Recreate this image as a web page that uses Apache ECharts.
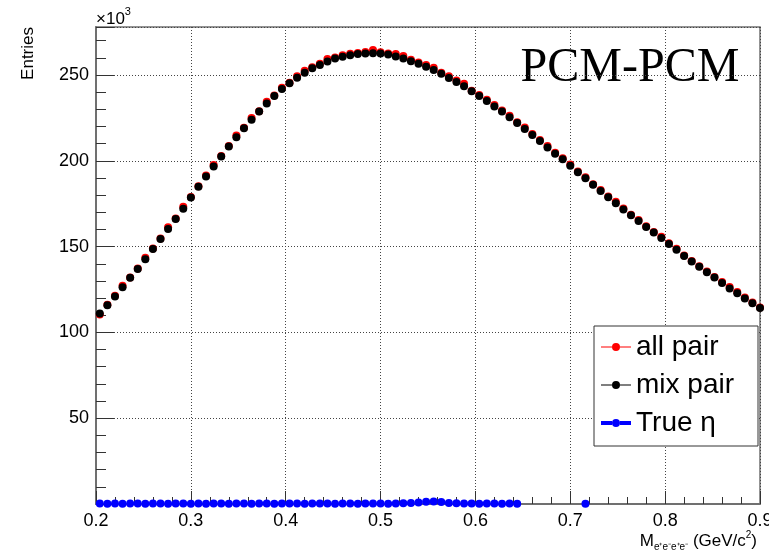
<!DOCTYPE html>
<html><head><meta charset="utf-8">
<script src="https://cdn.jsdelivr.net/npm/echarts/dist/echarts.min.js"></script>
<style>html,body{margin:0;padding:0;background:#fff}#c{width:769px;height:552px}</style>
</head><body><div id="c"></div>
<script>
// histogram bins (GeV/c^2): bin centres start at binStart, spaced binWidth
const binStart = 0.204, binWidth = 0.008;

// counts in units of 10^3
const allPair = [
  110.5,116.1,121.4,127.2,132.0,137.2,143.5,148.9,154.7,161.3,166.4,173.2,178.9,185.2,191.4,197.6,202.8,208.6,214.8,219.3,224.9,228.9,234.5,238.1,242.6,245.5,
  249.3,252.5,254.6,256.6,259.4,260.2,261.5,262.4,262.9,263.4,264.6,263.3,262.6,262.2,261.1,258.9,257.3,255.8,254.3,251.4,249.3,246.8,244.9,240.9,238.4,
  235.6,232.5,229.3,226.3,222.5,219.5,215.6,212.1,208.6,204.7,201.5,197.8,193.8,190.5,186.4,183.0,
  179.2,176.1,172.2,168.6,165.5,161.9,158.5,155.8,152.0,148.8,144.9,141.6,138.6,135.5,132.3,129.4,126.4,123.5,120.3,117.4,114.5
];
const mixPair = [
  111.0,115.9,120.9,126.3,131.8,136.9,142.6,148.6,154.5,160.3,166.1,172.1,178.6,184.9,190.9,196.7,202.5,208.3,213.7,219.0,224.0,228.7,233.4,237.8,241.8,245.2,
  248.4,251.3,253.9,255.9,257.9,259.6,260.6,261.5,262.3,262.6,262.7,262.5,261.9,260.8,259.6,258.1,256.6,254.8,253.0,250.7,248.3,246.0,243.4,240.5,237.8,
  234.8,231.6,228.8,225.4,222.0,218.6,215.0,211.5,207.8,204.2,200.9,197.1,193.3,189.8,186.0,182.4,
  178.8,175.3,171.7,168.3,164.9,161.5,158.2,155.0,151.5,148.2,144.6,141.3,138.2,135.1,132.0,128.8,125.6,122.8,119.8,117.0,114.3
];
const trueEta = [
  0.3,0.2,0.3,0.2,0.3,0.3,0.2,0.3,0.3,0.2,
  0.3,0.3,0.2,0.3,0.2,0.3,0.3,0.2,0.3,0.3,
  0.2,0.3,0.3,0.2,0.3,0.3,0.3,0.2,0.3,0.3,
  0.3,0.2,0.3,0.3,0.2,0.3,0.3,0.3,0.2,0.3,
  0.4,0.6,0.9,1.3,1.4,1.1,0.6,0.4,0.3,0.3,
  0.2,0.3,0.3,0.2,0.3,0.2,
  null,null,null,null,null,null,null,null,
  0.1,
  null,null,null,null,null,null,null,null,null,null,null,null,null,null,null,null,null,null,null,null,null,null,null
];
const xTickLabels = ['0.2','0.3','0.4','0.5','0.6','0.7','0.8','0.9'];
const yTickLabels = ['50','100','150','200','250'];
const seriesNames = ['all pair','mix pair','True η'];

const toPairs = arr => arr.map((v, i) => v == null ? null : [binStart + i * binWidth, v]).filter(p => p);

const FONT = '"Liberation Sans", Arial, Helvetica, sans-serif';
const chart = echarts.init(document.getElementById('c'), null, {renderer: 'canvas'});

const barThin = 'M0,4.5 H11 V5.5 H0 Z M19,4.5 H30 V5.5 H19 Z ';
const barThick = 'M0,3 H11 V7 H0 Z M19,3 H30 V7 H19 Z ';
const dot = 'M11,5 A4,4 0 1,0 19,5 A4,4 0 1,0 11,5 Z';

chart.setOption({
  animation: false,
  backgroundColor: '#ffffff',
  grid: {left: 96, right: 9, top: 27, bottom: 48, show: true, borderColor: '#707070', borderWidth: 1.5, containLabel: false, outerBoundsMode: 'none'},
  xAxis: {
    type: 'value', min: 0.2, max: 0.9, interval: 0.1,
    axisLine: {show: true, onZero: false, lineStyle: {color: '#707070', width: 2}},
    axisTick: {show: true, inside: true, length: 13, lineStyle: {color: '#333', width: 1}},
    minorTick: {show: true, splitNumber: 5, length: 7, lineStyle: {color: '#333', width: 1}},
    splitLine: {show: true, lineStyle: {color: '#444', width: 1, type: [1, 2]}},
    axisLabel: {show: true, showMinLabel: true, showMaxLabel: true, margin: 8, color: '#000', fontSize: 18, fontFamily: FONT,
      formatter: v => { const i = Math.round((v - 0.2) * 10); return Math.abs(v - (0.2 + i * 0.1)) < 1e-6 ? xTickLabels[i] : ''; }}
  },
  yAxis: [{
    type: 'value', min: 0, max: 278, interval: 50,
    axisLine: {show: true, onZero: false, lineStyle: {color: '#707070', width: 2}},
    axisTick: {show: true, inside: true, length: 18, lineStyle: {color: '#333', width: 1}},
    splitLine: {show: true, lineStyle: {color: '#444', width: 1, type: [1, 2]}},
    axisLabel: {show: true, margin: 7, color: '#000', fontSize: 18, fontFamily: FONT,
      formatter: v => { const i = Math.round(v / 50) - 1; return (Math.abs(v - (i + 1) * 50) < 1e-6 && i >= 0 && i < yTickLabels.length) ? yTickLabels[i] : ''; }}
  }, {
    type: 'value', min: 0, max: 278, interval: 10, position: 'left',
    axisLine: {show: false},
    axisTick: {show: true, inside: true, length: 10, lineStyle: {color: '#333', width: 1}},
    splitLine: {show: false},
    axisLabel: {show: false}
  }],
  legend: {
    orient: 'vertical', left: 594, top: 326,
    padding: [7, 24, 9, 7], itemGap: 10, itemWidth: 30, itemHeight: 8,
    backgroundColor: '#fff', borderColor: '#333', borderWidth: 1, borderRadius: 0,
    textStyle: {fontSize: 28, fontFamily: FONT, color: '#000', lineHeight: 28},
    data: [
      {name: seriesNames[0], icon: 'path://' + barThin + dot, itemStyle: {color: '#ff0000', opacity: 1}},
      {name: seriesNames[1], icon: 'path://' + barThin + dot, itemStyle: {color: '#000000', opacity: 1}},
      {name: seriesNames[2], icon: 'path://' + barThick + dot, itemStyle: {color: '#0000ff', opacity: 1}}
    ]
  },
  series: [
    {name: seriesNames[0], type: 'scatter', data: toPairs(allPair), symbol: 'circle', symbolSize: 8, itemStyle: {color: '#ff0000', opacity: 1}, clip: false, z: 3},
    {name: seriesNames[1], type: 'scatter', data: toPairs(mixPair), symbol: 'circle', symbolSize: 8, itemStyle: {color: '#000000', opacity: 1}, clip: false, z: 4},
    {name: seriesNames[2], type: 'scatter', data: toPairs(trueEta), symbol: 'circle', symbolSize: 8, itemStyle: {color: '#0000ff', opacity: 1}, clip: false, z: 5}
  ],
  graphic: [
    {type: 'text', x: 96, y: 6, style: {text: '{a|×10}{s|3}', font: '17px ' + FONT, fill: '#000',
      rich: {a: {fontSize: 17, fontFamily: FONT, verticalAlign: 'bottom', lineHeight: 22}, s: {fontSize: 11, fontFamily: FONT, verticalAlign: 'top', lineHeight: 22}}}},
    {type: 'text', x: 28, y: 27, rotation: Math.PI / 2, style: {text: 'Entries', font: '17px ' + FONT, fill: '#000', textAlign: 'right', align: 'right', textVerticalAlign: 'middle', verticalAlign: 'middle'}},
    {type: 'text', x: 630, y: 68, style: {text: 'PCM-PCM', font: '48px "Liberation Serif", "Times New Roman", serif', fill: '#000', textAlign: 'center', align: 'center', textVerticalAlign: 'middle', verticalAlign: 'middle'}},
    {type: 'text', x: 757, y: 541, style: {text: '{a|M}{b|e⁺e⁻e⁺e⁻}{a| (GeV/c}{s|2}{a|)}', fill: '#000', textAlign: 'right', align: 'right', textVerticalAlign: 'middle', verticalAlign: 'middle',
      rich: {a: {fontSize: 17, fontFamily: FONT, lineHeight: 22, verticalAlign: 'middle'},
             b: {fontSize: 10, fontFamily: FONT, lineHeight: 22, verticalAlign: 'bottom'},
             s: {fontSize: 10, fontFamily: FONT, lineHeight: 22, verticalAlign: 'top'}}}}
  ]
});
</script>
</body></html>
